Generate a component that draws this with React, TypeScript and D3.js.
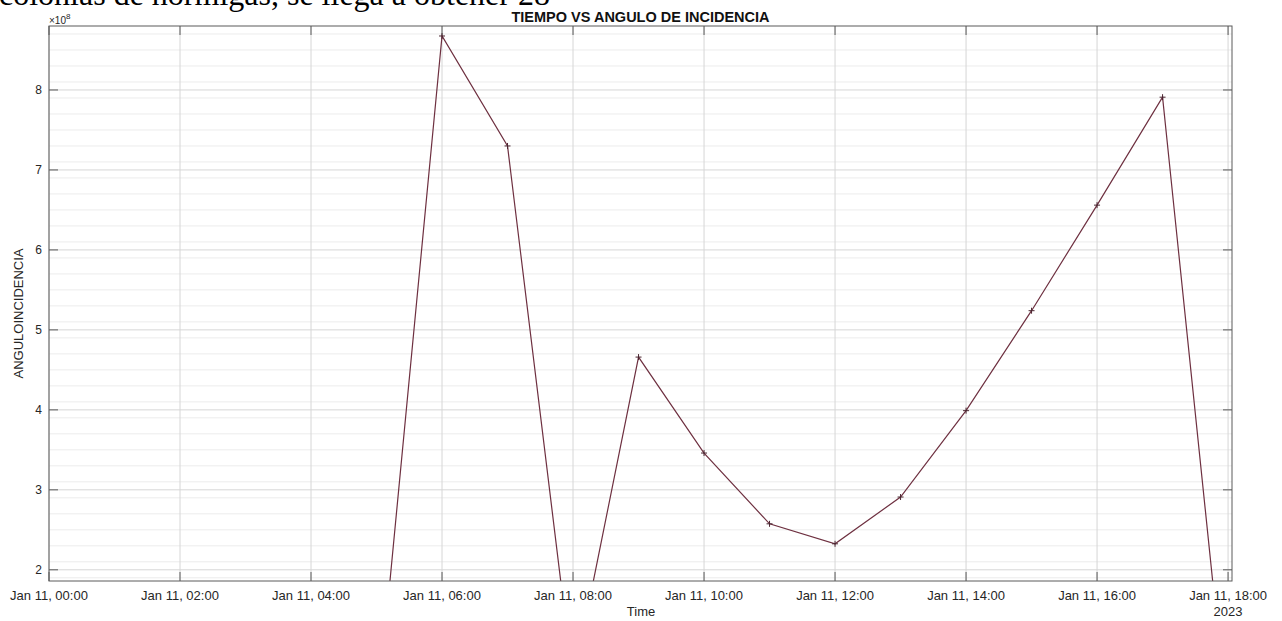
import * as d3 from "d3";
import { useEffect, useRef } from "react";

// horas del día 11 de enero de 2023 y ángulo (x1e8)
const horas = [5, 6, 7, 8, 9, 10, 11, 12, 13, 14, 15, 16, 17, 18];
const angulo = [0.1, 8.675, 7.3, 0.6, 4.66, 3.46, 2.575, 2.325, 2.91, 3.99, 5.24, 6.56, 7.91, 0.0];
const yTicks = [2, 3, 4, 5, 6, 7, 8];
const xTickHoras = [0, 2, 4, 6, 8, 10, 12, 14, 16, 18];

const W = 1282;
const H = 621;

export default function App() {
  const ref = useRef<SVGSVGElement>(null);

  useEffect(() => {
    const svg = d3.select(ref.current);
    svg.selectAll("*").remove();

    const margin = { top: 26, right: 50, bottom: 40, left: 49 };
    const base = new Date(2023, 0, 11, 0, 0);
    const t = (h: number) => new Date(base.getTime() + h * 3600 * 1000);

    const x = d3
      .scaleTime()
      .domain([t(0), t(18.06)])
      .range([margin.left, W - margin.right]);
    const y = d3.scaleLinear().domain([1.86, 8.8]).range([H - margin.bottom, margin.top]);

    const x0 = margin.left;
    const x1 = W - margin.right;
    const y0 = H - margin.bottom;
    const y1 = margin.top;

    svg.append("rect").attr("width", W).attr("height", H).attr("fill", "#fff");

    // texto del documento, cortado arriba
    svg
      .append("text")
      .attr("x", -1)
      .attr("y", 5)
      .style("font-family", "'Liberation Serif', 'Times New Roman', serif")
      .style("font-size", "32px")
      .attr("fill", "#000")
      .text("colonias de hormigas, se llega a obtener 28");

    // grilla menor
    const minor = d3.range(1.9, 8.8, 0.2).filter((v) => Math.abs(v - Math.round(v)) > 0.05);
    svg
      .append("g")
      .selectAll("line")
      .data(minor)
      .join("line")
      .attr("x1", x0)
      .attr("x2", x1)
      .attr("y1", (d) => y(d))
      .attr("y2", (d) => y(d))
      .attr("stroke", "#ececec")
      .attr("stroke-width", 1);

    // grilla mayor
    svg
      .append("g")
      .selectAll("line")
      .data(yTicks)
      .join("line")
      .attr("x1", x0)
      .attr("x2", x1)
      .attr("y1", (d) => y(d))
      .attr("y2", (d) => y(d))
      .attr("stroke", "#d6d6d6");
    svg
      .append("g")
      .selectAll("line")
      .data(xTickHoras)
      .join("line")
      .attr("x1", (d) => x(t(d)))
      .attr("x2", (d) => x(t(d)))
      .attr("y1", y0)
      .attr("y2", y1)
      .attr("stroke", "#d6d6d6");

    // línea de datos
    svg
      .append("clipPath")
      .attr("id", "clip")
      .append("rect")
      .attr("x", x0)
      .attr("y", y1)
      .attr("width", x1 - x0)
      .attr("height", y0 - y1);

    const pts = horas.map((h, i) => [h, angulo[i]] as [number, number]);
    const line = d3
      .line<[number, number]>()
      .x((d) => x(t(d[0])))
      .y((d) => y(d[1]));
    const plot = svg.append("g").attr("clip-path", "url(#clip)");
    plot
      .append("path")
      .attr("d", line(pts))
      .attr("fill", "none")
      .attr("stroke", "#6e3040")
      .attr("stroke-width", 1.2);
    const m = 3;
    plot
      .append("g")
      .selectAll("path")
      .data(pts)
      .join("path")
      .attr("d", (d) => {
        const px = x(t(d[0]));
        const py = y(d[1]);
        return `M${px - m},${py}H${px + m}M${px},${py - m}V${py + m}`;
      })
      .attr("stroke", "#4a2530")
      .attr("stroke-width", 1);

    // ejes (caja)
    const axisColor = "#5a5a5a";
    svg
      .append("rect")
      .attr("x", x0)
      .attr("y", y1)
      .attr("width", x1 - x0)
      .attr("height", y0 - y1)
      .attr("fill", "none")
      .attr("stroke", axisColor)
      .attr("stroke-width", 1);

    const tl = 9;
    const ticks = svg.append("g").attr("stroke", axisColor);
    xTickHoras.forEach((h) => {
      const px = x(t(h));
      ticks.append("line").attr("x1", px).attr("x2", px).attr("y1", y0).attr("y2", y0 - tl);
      ticks.append("line").attr("x1", px).attr("x2", px).attr("y1", y1).attr("y2", y1 + tl);
    });
    yTicks.forEach((v) => {
      const py = y(v);
      ticks.append("line").attr("x1", x0).attr("x2", x0 + tl).attr("y1", py).attr("y2", py);
      ticks.append("line").attr("x1", x1).attr("x2", x1 - tl).attr("y1", py).attr("y2", py);
    });

    const font = "'Liberation Sans', Arial, sans-serif";
    svg
      .append("g")
      .selectAll("text")
      .data(xTickHoras)
      .join("text")
      .attr("x", (d) => x(t(d)))
      .attr("y", y0 + 19)
      .attr("text-anchor", "middle")
      .style("font-family", font)
      .style("font-size", "13px")
      .attr("fill", "#262626")
      .text((d) => `Jan 11, ${d3.timeFormat("%H:%M")(t(d))}`);

    svg
      .append("text")
      .attr("x", x(t(18)))
      .attr("y", y0 + 35)
      .attr("text-anchor", "middle")
      .style("font-family", font)
      .style("font-size", "13px")
      .attr("fill", "#262626")
      .text("2023");

    svg
      .append("g")
      .selectAll("text")
      .data(yTicks)
      .join("text")
      .attr("x", x0 - 7)
      .attr("y", (d) => y(d) + 4.5)
      .attr("text-anchor", "end")
      .style("font-family", font)
      .style("font-size", "12px")
      .attr("fill", "#262626")
      .text((d) => d);

    // exponente
    const ex = svg
      .append("text")
      .attr("x", x0)
      .attr("y", y1 - 2)
      .style("font-family", font)
      .style("font-size", "10px")
      .attr("fill", "#262626");
    ex.append("tspan").text("×10");
    ex.append("tspan").attr("dy", -5).style("font-size", "8px").text("8");

    // título
    svg
      .append("text")
      .attr("x", (x0 + x1) / 2)
      .attr("y", y1 - 4)
      .attr("text-anchor", "middle")
      .style("font-family", font)
      .style("font-size", "14.5px")
      .style("font-weight", "bold")
      .attr("fill", "#111")
      .text("TIEMPO VS ANGULO DE INCIDENCIA");

    svg
      .append("text")
      .attr("x", 641)
      .attr("y", y0 + 35)
      .attr("text-anchor", "middle")
      .style("font-family", font)
      .style("font-size", "13px")
      .attr("fill", "#262626")
      .text("Time");

    svg
      .append("text")
      .attr("transform", `translate(23,${(y0 + y1) / 2 + 10}) rotate(-90)`)
      .attr("text-anchor", "middle")
      .style("font-family", font)
      .style("font-size", "13px")
      .attr("fill", "#262626")
      .text("ANGULOINCIDENCIA");
  }, []);

  return (
    <svg
      ref={ref}
      width={W}
      height={H}
      style={{ position: "absolute", left: 0, top: 0, display: "block" }}
    />
  );
}
